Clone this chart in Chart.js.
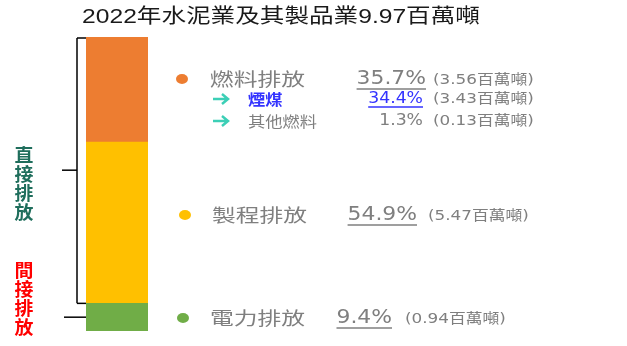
<!DOCTYPE html>
<html>
<head>
<meta charset="utf-8">
<script src="https://cdn.jsdelivr.net/npm/chart.js@4"></script>
<style>
  html, body { margin: 0; padding: 0; background: #fff; }
  #wrap { width: 627px; height: 346px; }
</style>
</head>
<body>
<div id="wrap"><canvas id="cement" width="627" height="346"></canvas></div>
<script>
// ## Data ########################################################################
const titleText    = '2022年水泥業及其製品業9.97百萬噸';
const categories   = ['2022'];
// stacked bottom -> top
const seriesNames  = ['電力排放', '製程排放', '燃料排放'];
const seriesShares = [9.4, 54.9, 35.7];          // %
const seriesTonnes = [0.94, 5.47, 3.56];         // 百萬噸
const seriesColors = ['#70AD47', '#FFC000', '#ED7D31'];
// breakdown of 燃料排放
const fuelNames    = ['煙煤', '其他燃料'];
const fuelShares   = [34.4, 1.3];
const fuelTonnes   = [3.43, 0.13];
const groupLabels  = ['直接排放', '間接排放'];

// ## Helpers #####################################################################
const SX = 1.22; // the slide text is a bit wide
const CJK = '"Noto Sans CJK TC"';
const NUM = '"DejaVu Sans", ' + CJK;

/** draw text stretched horizontally, returns drawn width */
function txt(ctx, s, x, y, font, color, align, sx) {
  sx = sx || SX;
  ctx.save();
  ctx.font = font;
  ctx.fillStyle = color;
  ctx.textBaseline = 'middle';
  ctx.textAlign = align || 'left';
  ctx.translate(x, y);
  ctx.scale(sx, 1);
  ctx.fillText(s, 0, 0);
  const w = ctx.measureText(s).width * sx;
  ctx.restore();
  return w;
}

function line(ctx, x1, y1, x2, y2, color, w) {
  ctx.save();
  ctx.strokeStyle = color;
  ctx.lineWidth = w || 1.5;
  ctx.beginPath();
  ctx.moveTo(x1, y1);
  ctx.lineTo(x2, y2);
  ctx.stroke();
  ctx.restore();
}

function dot(ctx, x, y, color) {
  ctx.save();
  ctx.fillStyle = color;
  ctx.beginPath();
  ctx.ellipse(x, y, 6, 5, 0, 0, Math.PI * 2);
  ctx.fill();
  ctx.restore();
}

function arrow(ctx, x, y, color) {
  ctx.save();
  ctx.strokeStyle = color;
  ctx.lineWidth = 2.5;
  ctx.beginPath();
  ctx.moveTo(x, y); ctx.lineTo(x + 14, y);
  ctx.moveTo(x + 9, y - 5); ctx.lineTo(x + 15, y); ctx.lineTo(x + 9, y + 5);
  ctx.stroke();
  ctx.restore();
}

const pct = v => v.toFixed(1) + '%';
const mt  = v => '(' + v.toFixed(2) + '百萬噸)';

// ## Annotation plugin ###########################################################
const slideText = {
  id: 'slideText',
  afterDraw(chart) {
    const ctx = chart.ctx;
    const y = chart.scales.y;
    const ca = chart.chartArea;
    const gray = '#7F7F7F';

    // title
    txt(ctx, titleText, 281, 17, '20px "Liberation Sans", ' + CJK, '#1a1a1a', 'center', 1.23);

    // bracket for direct emissions
    const yTop = y.getPixelForValue(100);
    const yDirBot = y.getPixelForValue(seriesShares[0]);
    const bx = ca.left - 9;
    line(ctx, bx, yTop + 1, ca.left, yTop + 1, '#000');
    line(ctx, bx, yTop + 1, bx, yDirBot, '#000');
    line(ctx, bx, yDirBot, ca.left, yDirBot, '#000');
    const yMid = (yTop + yDirBot) / 2;
    line(ctx, bx - 15, yMid, bx, yMid, '#000');
    // indirect tick
    const yGreen = (y.getPixelForValue(0) + yDirBot) / 2;
    line(ctx, bx - 13, yGreen, ca.left, yGreen, '#000');

    // vertical group labels
    const gColors = ['#1F6E5C', '#FF0000'];
    const gStart = [155, 270];
    groupLabels.forEach((g, gi) => {
      [...g].forEach((ch, i) => {
        txt(ctx, ch, 24, gStart[gi] + i * 19, 'bold 18px ' + CJK, gColors[gi], 'center', 1.05);
      });
    });

    // legend rows (top -> bottom: fuel, process, power)
    const rows = [
      { i: 2, y: 79, dx: 182, lx: 210, px: 426, tx: 433 },
      { i: 1, y: 215, dx: 185, lx: 212, px: 417, tx: 428 },
      { i: 0, y: 318, dx: 183, lx: 210, px: 392, tx: 405 }
    ];
    rows.forEach(r => {
      dot(ctx, r.dx, r.y, seriesColors[r.i]);
      txt(ctx, seriesNames[r.i], r.lx, r.y, '18px ' + CJK, gray, 'left', 1.32);
      const w = txt(ctx, pct(seriesShares[r.i]), r.px, r.y, '19px ' + NUM, gray, 'right', 1.15);
      line(ctx, r.px - w, r.y + 10, r.px, r.y + 10, gray, 1.5);
      txt(ctx, mt(seriesTonnes[r.i]), r.tx, r.y + 1, '14px ' + NUM, gray, 'left', 1.2);
    });

    // fuel breakdown
    const subY = [99, 121];
    const subColors = ['#3333FF', gray];
    fuelNames.forEach((n, i) => {
      arrow(ctx, 213, subY[i], '#3CCFB6');
      txt(ctx, n, 248, subY[i], (i === 0 ? 'bold ' : '') + '15px ' + CJK, subColors[i], 'left', 1.15);
      const w = txt(ctx, pct(fuelShares[i]), 423, subY[i], '15px ' + NUM, subColors[i], 'right', 1.15);
      if (i === 0) line(ctx, 423 - w, subY[i] + 8, 423, subY[i] + 8, subColors[i], 1.5);
      txt(ctx, mt(fuelTonnes[i]), 433, subY[i], '14px ' + NUM, gray, 'left', 1.2);
    });
  }
};

// ## Chart #######################################################################
new Chart(document.getElementById('cement').getContext('2d'), {
  type: 'bar',
  data: {
    labels: categories,
    datasets: seriesNames.map((n, i) => ({
      label: n,
      data: [seriesShares[i]],
      backgroundColor: seriesColors[i],
      borderWidth: 0,
      categoryPercentage: 1,
      barPercentage: 1
    }))
  },
  options: {
    responsive: false,
    animation: false,
    layout: { padding: { left: 86, right: 479, top: 37, bottom: 15 } },
    scales: {
      x: { stacked: true, display: false },
      y: { stacked: true, display: false, min: 0, max: 100 }
    },
    plugins: { legend: { display: false }, tooltip: { enabled: false } }
  },
  plugins: [slideText]
});
</script>
</body>
</html>
